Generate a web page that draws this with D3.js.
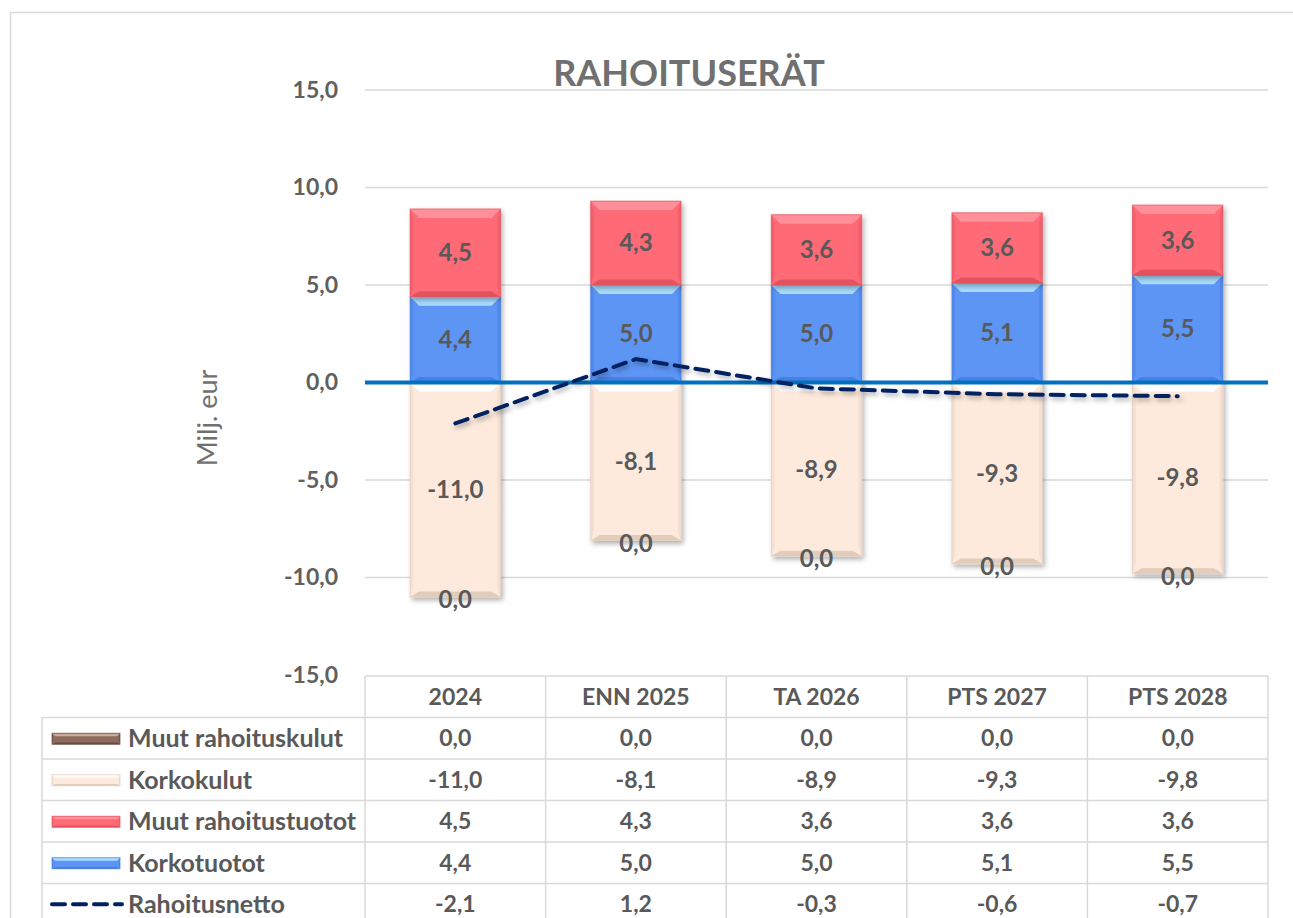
<!DOCTYPE html>
<meta charset="utf-8">
<style>
body { margin: 0; background: #fff; }
svg text { font-family: Lato, "Open Sans", sans-serif; fill: #595959; }
.tick text { font-weight: bold; font-size: 23px; fill: #606060; }
.cell { font-weight: bold; font-size: 23px; }
.rowname { font-weight: bold; font-size: 25px; }
</style>
<html>
  <head>
    <script src="https://cdn.jsdelivr.net/npm/d3@7/dist/d3.min.js"></script>
  </head>
  <body>
    <script>
var categories = ["2024", "ENN 2025", "TA 2026", "PTS 2027", "PTS 2028"];
var korkotuotot = [4.4, 5.0, 5.0, 5.1, 5.5];
var muutTuotot = [4.5, 4.3, 3.6, 3.6, 3.6];
var korkokulut = [-11.0, -8.1, -8.9, -9.3, -9.8];
var muutKulut = [0.0, 0.0, 0.0, 0.0, 0.0];
var netto = [-2.1, 1.2, -0.3, -0.6, -0.7];
var yTicks = [-15, -10, -5, 0, 5, 10, 15];

var width = 1293, height = 918;
var fmt = function(v) { return v.toFixed(1).replace(".", ","); };

var svg = d3.select("body").append("svg")
    .attr("width", width).attr("height", height);

var defs = svg.append("defs");
var f = defs.append("filter").attr("id", "shadow")
    .attr("x", "-20%").attr("y", "-20%").attr("width", "150%").attr("height", "150%");
f.append("feDropShadow").attr("dx", 2).attr("dy", 3).attr("stdDeviation", 2.5)
    .attr("flood-color", "#000").attr("flood-opacity", 0.3);

// outer chart frame
svg.append("rect").attr("x", 10.5).attr("y", 12.5).attr("width", 1300).attr("height", 920)
    .attr("fill", "none").attr("stroke", "#d9d9d9").attr("stroke-width", 1.5);

var x = d3.scaleBand().domain(categories).range([365, 1268]).paddingInner(0.5).paddingOuter(0.25);
var y = d3.scaleLinear().domain([-15, 15]).range([675, 90]);

// gridlines
svg.append("g").selectAll("line").data(yTicks.filter(function(d) { return d !== 0 && d !== -15; }))
  .join("line")
    .attr("x1", 365).attr("x2", 1268)
    .attr("y1", function(d) { return y(d); }).attr("y2", function(d) { return y(d); })
    .attr("stroke", "#d9d9d9").attr("stroke-width", 1.5);

// y axis
var yAxis = svg.append("g")
    .attr("transform", "translate(338,0)")
    .call(d3.axisLeft(y).tickValues(yTicks).tickFormat(fmt).tickSize(0).tickPadding(0));
yAxis.select(".domain").remove();
yAxis.selectAll(".tick text").attr("dy", "0.32em").attr("font-family", null).attr("font-size", null);

svg.append("text")
    .attr("transform", "translate(217,418) rotate(-90)")
    .attr("text-anchor", "middle")
    .style("font-size", "27px").style("fill", "#707070")
    .text("Milj. eur");

svg.append("text")
    .attr("x", 689).attr("y", 86)
    .attr("text-anchor", "middle")
    .style("font-size", "36px").style("font-weight", "bold").style("fill", "#707070")
    .text("RAHOITUSERÄT");

var series = [
  {name: "Korkotuotot", values: korkotuotot, base: "#5d95f5", top: "#a9dcff", bot: "#4a7fe0", side: "#5189ec"},
  {name: "Muut rahoitustuotot", values: muutTuotot, base: "#ff6a77", top: "#ff8f99", bot: "#e2525f", side: "#f2606c"},
  {name: "Korkokulut", values: korkokulut, base: "#fdeadc", top: "#ffffff", bot: "#e2cdbd", side: "#f3e0d2"},
  {name: "Muut rahoituskulut", values: muutKulut, base: "#8c6a5c", top: "#c9aa9c", bot: "#6a4d41", side: "#7c5d50"}
];

// stack positives up, negatives down
var segments = [];
categories.forEach(function(c, i) {
  var pos = 0, neg = 0;
  series.forEach(function(s) {
    var v = s.values[i], y0, y1;
    if (v >= 0 && s.name !== "Muut rahoituskulut") { y0 = pos; y1 = pos + v; pos = y1; }
    else { y0 = neg; y1 = neg + v; neg = y1; }
    segments.push({cat: c, s: s, v: v, lo: Math.min(y0, y1), hi: Math.max(y0, y1)});
  });
});

function bevel(g, x0, y0, w, h, s, b) {
  g.append("rect").attr("x", x0).attr("y", y0).attr("width", w).attr("height", h).attr("fill", s.base);
  b = Math.min(b, h / 2, w / 2);
  g.append("polygon").attr("fill", s.top)
    .attr("points", [[x0, y0], [x0 + w, y0], [x0 + w - b, y0 + b], [x0 + b, y0 + b]].join(" "));
  g.append("polygon").attr("fill", s.bot)
    .attr("points", [[x0, y0 + h], [x0 + w, y0 + h], [x0 + w - b, y0 + h - b * 0.6], [x0 + b, y0 + h - b * 0.6]].join(" "));
  g.append("polygon").attr("fill", s.side)
    .attr("points", [[x0, y0], [x0 + b * 0.35, y0 + b], [x0 + b * 0.35, y0 + h - b], [x0, y0 + h]].join(" "));
  g.append("polygon").attr("fill", s.side)
    .attr("points", [[x0 + w, y0], [x0 + w - b * 0.35, y0 + b], [x0 + w - b * 0.35, y0 + h - b], [x0 + w, y0 + h]].join(" "));
  g.append("rect").attr("x", x0).attr("y", y0).attr("width", w).attr("height", h)
    .attr("fill", "none").attr("stroke", s.bot).attr("stroke-opacity", 0.7).attr("stroke-width", 1);
}

var bars = svg.append("g");
segments.forEach(function(d) {
  var h = y(d.lo) - y(d.hi);
  if (h <= 0.5) return;
  var g = bars.append("g").attr("filter", "url(#shadow)");
  bevel(g, x(d.cat), y(d.hi), x.bandwidth(), h, d.s, 9);
});

// zero line
svg.append("line").attr("x1", 365).attr("x2", 1268).attr("y1", y(0)).attr("y2", y(0))
    .attr("stroke", "#0070c0").attr("stroke-width", 4);

// net line
var line = d3.line()
    .x(function(d, i) { return x(categories[i]) + x.bandwidth() / 2; })
    .y(function(d) { return y(d); });
svg.append("path").datum(netto)
    .attr("d", line)
    .attr("fill", "none").attr("stroke", "#002060").attr("stroke-width", 4)
    .attr("stroke-dasharray", "13,8").attr("stroke-linecap", "round")
    .attr("filter", "url(#shadow)");

// data labels
svg.append("g").selectAll("text").data(segments).join("text")
    .attr("class", "cell")
    .attr("x", function(d) { return x(d.cat) + x.bandwidth() / 2; })
    .attr("y", function(d) { return (y(d.lo) + y(d.hi)) / 2 + (d.s.name === "Muut rahoituskulut" ? 3 : 0); })
    .attr("dy", "0.35em")
    .attr("text-anchor", "middle")
    .style("font-size", "24px")
    .text(function(d) { return fmt(d.v); });

// data table
var rowH = 41.5, tableTop = 676;
var tableRows = [
  {s: series[3], values: muutKulut},
  {s: series[2], values: korkokulut},
  {s: series[1], values: muutTuotot},
  {s: series[0], values: korkotuotot},
  {s: null, name: "Rahoitusnetto", values: netto}
];
var colLeft = function(c) { return x(c) - x.step() * 0.25; };
var tbl = svg.append("g");
var gridCol = "#d9d9d9";
// header
tbl.append("line").attr("x1", 365).attr("x2", 1268).attr("y1", tableTop).attr("y2", tableTop)
    .attr("stroke", gridCol).attr("stroke-width", 1.5);
categories.forEach(function(c) {
  tbl.append("line").attr("x1", colLeft(c)).attr("x2", colLeft(c)).attr("y1", tableTop).attr("y2", 930)
      .attr("stroke", gridCol).attr("stroke-width", 1.5);
  tbl.append("text").attr("class", "cell")
      .attr("x", colLeft(c) + x.step() / 2).attr("y", tableTop + rowH / 2).attr("dy", "0.35em")
      .attr("text-anchor", "middle").text(c);
});
tbl.append("line").attr("x1", 1268).attr("x2", 1268).attr("y1", tableTop).attr("y2", 930)
    .attr("stroke", gridCol).attr("stroke-width", 1.5);
tbl.append("line").attr("x1", 42).attr("x2", 42).attr("y1", tableTop + rowH).attr("y2", 930)
    .attr("stroke", gridCol).attr("stroke-width", 1.5);

tableRows.forEach(function(r, k) {
  var ry = tableTop + rowH * (k + 1);
  tbl.append("line").attr("x1", 42).attr("x2", 1268).attr("y1", ry).attr("y2", ry)
      .attr("stroke", gridCol).attr("stroke-width", 1.5);
  var cy = ry + rowH / 2;
  if (r.s) {
    var kg = tbl.append("g");
    bevel(kg, 52, cy - 5, 68, 11, r.s, 3);
  } else {
    tbl.append("line").attr("x1", 52).attr("x2", 122).attr("y1", cy).attr("y2", cy)
        .attr("stroke", "#002060").attr("stroke-width", 4)
        .attr("stroke-dasharray", "13,8").attr("stroke-linecap", "round");
  }
  tbl.append("text").attr("class", "rowname")
      .attr("x", 128).attr("y", cy).attr("dy", "0.35em")
      .text(r.s ? r.s.name : r.name);
  categories.forEach(function(c, i) {
    tbl.append("text").attr("class", "cell")
        .attr("x", colLeft(c) + x.step() / 2).attr("y", cy).attr("dy", "0.35em")
        .attr("text-anchor", "middle").text(fmt(r.values[i]));
  });
});
    </script>
  </body>
</html>
